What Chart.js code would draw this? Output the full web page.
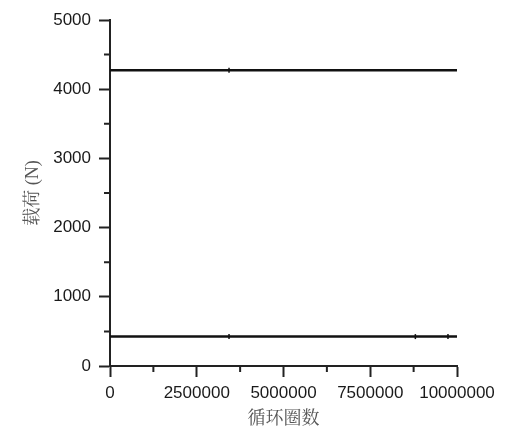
<!DOCTYPE html>
<html>
<head>
<meta charset="utf-8">
<script src="https://cdn.jsdelivr.net/npm/chart.js@4/dist/chart.umd.min.js"></script>
<style>
  html, body { margin: 0; padding: 0; background: #fff; }
  #wrap { width: 520px; height: 440px; }
</style>
</head>
<body>
<div id="wrap"><canvas id="loadChart" width="520" height="440"></canvas></div>
<script>
// cycles (x) and load in N (y) for the two load levels
const upperCycles = [0, 3430000, 10000000];
const upperLoad = [4275, 4275, 4275];
const lowerCycles = [0, 3430000, 8800000, 9740000, 10000000];
const lowerLoad = [425, 425, 425, 425, 425];
const xTicks = [0, 2500000, 5000000, 7500000, 10000000];
const yTicks = [0, 1000, 2000, 3000, 4000, 5000];
const xTitle = "循环圈数";
const yTitle = "载荷 (N)";

function toPoints(xs, ys) {
    return xs.map((x, i) => ({ x: x, y: ys[i] }));
}

// minor ticks between the major ones, drawn through the scales
const minorTicks = {
    id: "minorTicks",
    afterDraw(chart) {
        const ctx = chart.ctx;
        const xs = chart.scales.x, ys = chart.scales.y;
        ctx.save();
        ctx.strokeStyle = "#222";
        ctx.lineWidth = 2;
        ctx.beginPath();
        for (let i = 0; i < xTicks.length - 1; i++) {
            const px = xs.getPixelForValue((xTicks[i] + xTicks[i + 1]) / 2);
            ctx.moveTo(px, ys.bottom);
            ctx.lineTo(px, ys.bottom + 6);
        }
        for (let i = 0; i < yTicks.length - 1; i++) {
            const py = ys.getPixelForValue((yTicks[i] + yTicks[i + 1]) / 2);
            ctx.moveTo(xs.left, py);
            ctx.lineTo(xs.left - 6, py);
        }
        ctx.stroke();
        ctx.restore();
    }
};

const tickFont = { family: "'Liberation Sans', Arial, sans-serif", size: 17 };
const titleFont = { family: "'Liberation Serif', 'Noto Serif CJK SC', 'Noto Sans CJK SC', serif", size: 18 };

function lineSet(xs, ys) {
    return {
        data: toPoints(xs, ys),
        borderColor: "#111",
        backgroundColor: "#111",
        borderWidth: 2.5,
        pointStyle: "line",
        pointRotation: 90,
        pointRadius: xs.map((x, i) => (i === 0 || i === xs.length - 1) ? 0 : 2.5),
        pointBorderWidth: 1.5,
        tension: 0
    };
}

new Chart(document.getElementById("loadChart"), {
    type: "line",
    data: {
        datasets: [lineSet(upperCycles, upperLoad), lineSet(lowerCycles, lowerLoad)]
    },
    options: {
        responsive: false,
        animation: false,
        layout: { padding: { top: 20, right: 63, left: 0, bottom: 0 } },
        plugins: { legend: { display: false }, tooltip: { enabled: false } },
        scales: {
            x: {
                type: "linear",
                min: 0,
                max: 10000000,
                afterBuildTicks: s => { s.ticks = xTicks.map(v => ({ value: v })); },
                afterFit: s => { s.height = 74; },
                grid: { drawOnChartArea: false, tickLength: 11, tickWidth: 2, tickColor: "#222" },
                border: { color: "#222", width: 2 },
                ticks: { color: "#1a1a1a", font: tickFont, padding: 6, maxRotation: 0, callback: v => String(v) },
                title: { display: true, text: xTitle, color: "#555", font: titleFont, padding: { top: 0, bottom: 10 } }
            },
            y: {
                min: 0,
                max: 5000,
                afterBuildTicks: s => { s.ticks = yTicks.map(v => ({ value: v })); },
                afterFit: s => { s.width = 110; },
                grid: { drawOnChartArea: false, tickLength: 11, tickWidth: 2, tickColor: "#222" },
                border: { color: "#222", width: 2 },
                ticks: { color: "#1a1a1a", font: tickFont, padding: 8, callback: v => String(v) },
                title: { display: true, text: yTitle, color: "#555", font: titleFont, padding: 22 }
            }
        }
    },
    plugins: [minorTicks]
});
</script>
</body>
</html>
